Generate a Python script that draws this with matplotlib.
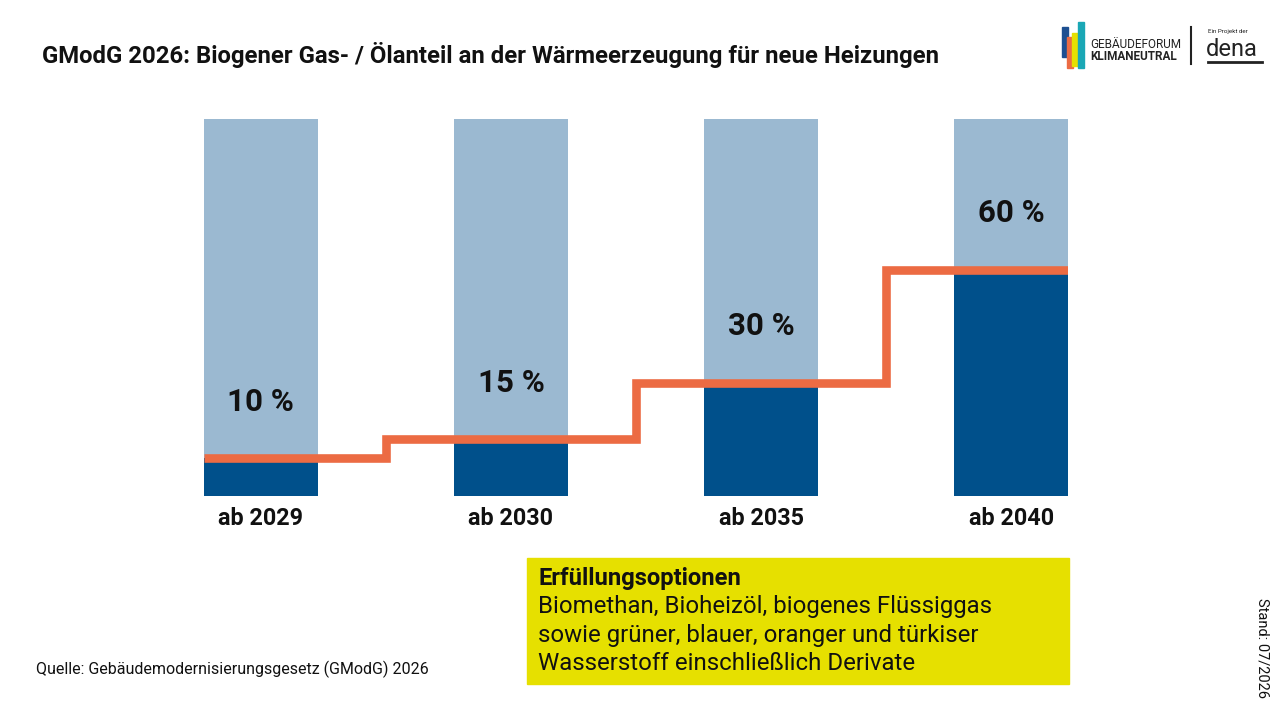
import matplotlib.pyplot as plt
from matplotlib.patches import Rectangle
from matplotlib.lines import Line2D

plt.rcParams['font.family'] = ['Roboto', 'DejaVu Sans']

# data
categories = ["ab 2029", "ab 2030", "ab 2035", "ab 2040"]
shares = [10, 15, 30, 60]
labels = ["10 %", "15 %", "30 %", "60 %"]
total = 100

light_blue = "#9bb9d1"
dark_blue = "#00508b"
orange = "#ec6b43"
yellow = "#e6e000"

W, H = 1280, 720
fig = plt.figure(figsize=(12.8, 7.2), dpi=100)

def fx(px):
    return px / W

def fy(py):
    return 1 - py / H

bar_w = 0.455
ax = fig.add_axes([fx(204), fy(496), fx(1068 - 204), (496 - 119) / H])
x = list(range(len(categories)))
ax.bar(x, [total] * len(x), width=bar_w, color=light_blue, zorder=1)
ax.bar(x, shares, width=bar_w, color=dark_blue, zorder=2)

# step line through the midpoints between bars
sx, sy = [], []
for i, v in enumerate(shares):
    left = i - 0.5 if i > 0 else i - bar_w / 2
    right = i + 0.5 if i < len(shares) - 1 else i + bar_w / 2
    sx += [left, right]
    sy += [v, v]
ax.plot(sx, sy, color=orange, lw=6.2, solid_capstyle='butt',
        solid_joinstyle='miter', zorder=3)

for i, (v, lab) in enumerate(zip(shares, labels)):
    ax.text(i, v + 15, lab, ha='center', va='center', fontsize=22.5,
            fontweight='bold', color='#111111', zorder=4)
    ax.text(i, -6, categories[i], ha='center', va='center', fontsize=16.8,
            fontweight='bold', color='#111111')

ax.set_xlim(-bar_w / 2, len(x) - 1 + bar_w / 2)
ax.set_ylim(0, total)
ax.axis('off')

# title
fig.text(fx(42), fy(55), "GModG 2026: Biogener Gas- / Ölanteil an der Wärmeerzeugung für neue Heizungen",
         fontsize=17.2, fontweight='bold', ha='left', va='center', color='#111111')

# yellow box
fig.patches.append(Rectangle((fx(527), fy(684)), fx(1069 - 527), (684 - 558) / H,
                             transform=fig.transFigure, color=yellow, zorder=0))
fig.text(fx(538), fy(578), "Erfüllungsoptionen", fontsize=17.1, fontweight='bold',
         ha='left', va='center', color='#111111')
box_lines = ["Biomethan, Bioheizöl, biogenes Flüssiggas",
             "sowie grüner, blauer, oranger und türkiser",
             "Wasserstoff einschließlich Derivate"]
for k, line in enumerate(box_lines):
    fig.text(fx(538), fy(607 + 28.5 * k), line, fontsize=17.3, ha='left', va='center',
             color='#111111')

# source and date
fig.text(fx(36), fy(669), "Quelle: Gebäudemodernisierungsgesetz (GModG) 2026",
         fontsize=11.5, ha='left', va='center', color='#111111')
fig.text(fx(1262), fy(648), "Stand: 07/2026", fontsize=10.5, rotation=-90,
         ha='center', va='center', color='#111111')

# logo
logo = [(1062, 27, 57, "#1d4f91"), (1067, 37, 68, "#ec6b43"),
        (1072, 33, 66, "#e6e000"), (1078, 22, 68, "#1aa7b5")]
for lx, top, bot, c in logo:
    fig.patches.append(Rectangle((fx(lx), fy(bot)), fx(6), (bot - top) / H,
                                 transform=fig.transFigure, color=c))
fig.text(fx(1090), fy(44), "GEBÄUDEFORUM", fontsize=8.5, ha='left', va='center',
         color='#222222')
fig.text(fx(1090), fy(57), "KLIMANEUTRAL", fontsize=8.5, fontweight='bold',
         ha='left', va='center', color='#222222')
fig.lines.append(Line2D([fx(1191), fx(1191)], [fy(27), fy(64)], transform=fig.transFigure,
                        color='#222222', lw=1.5))
fig.text(fx(1208), fy(32), "Ein Projekt der", fontsize=4.5, ha='left', va='center',
         color='#222222')
fig.text(fx(1206), fy(50), "dena", fontsize=17, ha='left', va='center', color='#222222')
fig.lines.append(Line2D([fx(1208), fx(1262)], [fy(62), fy(62)], transform=fig.transFigure,
                        color='#222222', lw=2))

fig.savefig("out.png", dpi=100)
